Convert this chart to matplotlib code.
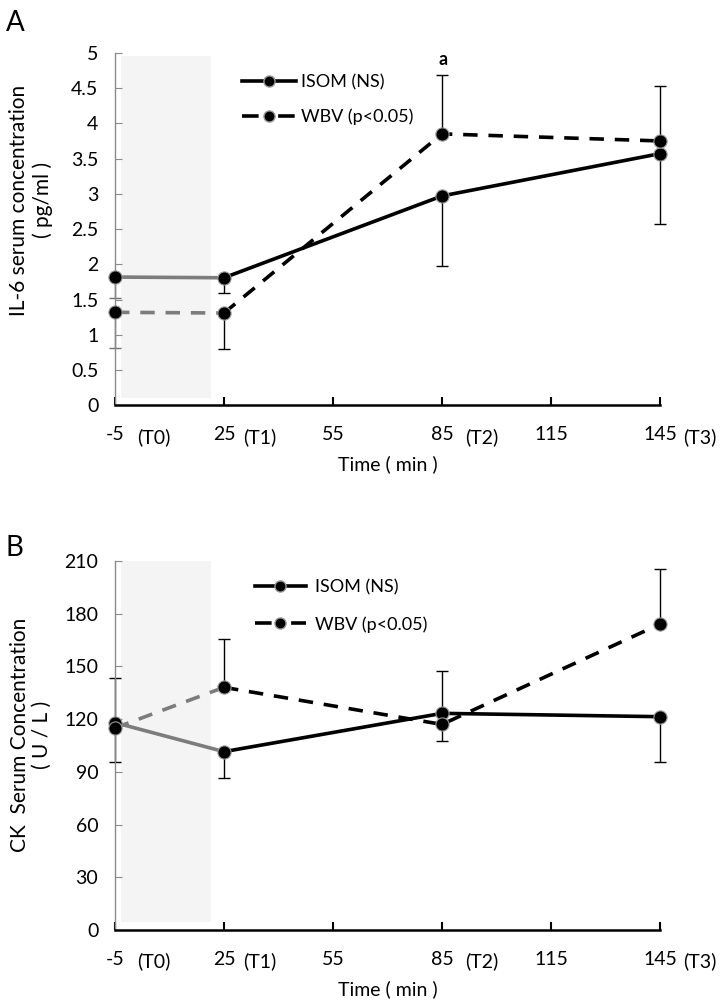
import matplotlib
matplotlib.use("Agg")
import matplotlib.pyplot as plt
from matplotlib.lines import Line2D
from matplotlib.transforms import ScaledTranslation

plt.rcParams['font.family'] = ['Lato', 'DejaVu Sans']

# ---------------- data ----------------
time = [-5, 25, 85, 145]
xticks = [-5, 25, 55, 85, 115, 145]
tp_labels = ["(T0)", "(T1)", "(T2)", "(T3)"]
tp_pos = [5.6, 34.8, 96.0, 156.0]

il6_isom = [1.82, 1.81, 2.97, 3.57]
il6_wbv = [1.32, 1.31, 3.85, 3.75]
il6_isom_lo = [0.29, 0.21, 0.99, 1.00]
il6_isom_up = [0, 0, 0, 0]
il6_wbv_lo = [0.51, 0.51, 0, 0]
il6_wbv_up = [0, 0, 0.83, 0.78]

ck_isom = [118.0, 101.5, 123.3, 121.4]
ck_wbv = [115.0, 138.1, 117.0, 174.1]
ck_isom_lo = [0, 14.8, 0, 25.8]
ck_isom_up = [25.5, 0, 24.3, 0]
ck_wbv_lo = [19.5, 0, 9.5, 0]
ck_wbv_up = [0, 27.3, 0, 31.3]

GRAY = '#7c7c7c'
SHADE = '#f4f4f4'
TICKFS = 14

fig = plt.figure(figsize=(7.2, 10.06), dpi=100)
axA = fig.add_axes([115 / 720, 1 - 405.4 / 1006, 545 / 720, 352.6 / 1006])
axB = fig.add_axes([115 / 720, 1 - 930 / 1006, 545 / 720, 369 / 1006])


def draw_panel(ax, isom, wbv, ilo, iup, wlo, wup, ymax, ystep, shade_y, first_err_color):
    ax.set_xlim(-5, 145)
    ax.set_ylim(0, ymax)
    ax.fill_between([-3.3, 21.5], shade_y[0], shade_y[1], color=SHADE, lw=0, zorder=0)
    for i, t in enumerate(time):
        col = first_err_color if i == 0 else 'black'
        ax.errorbar([t], [isom[i]], yerr=[[ilo[i]], [iup[i]]], fmt='none', ecolor=col,
                    elinewidth=1.0, capsize=4, capthick=1.0, zorder=2, clip_on=False)
        ax.errorbar([t], [wbv[i]], yerr=[[wlo[i]], [wup[i]]], fmt='none', ecolor=col,
                    elinewidth=1.0, capsize=4, capthick=1.0, zorder=2, clip_on=False)
    ax.plot(time[:2], isom[:2], color=GRAY, lw=2.6, zorder=3)
    ax.plot(time[1:], isom[1:], color='black', lw=2.6, zorder=3)
    ax.plot(time[:2], wbv[:2], color=GRAY, lw=2.6, dashes=(4, 3), zorder=3)
    ax.plot(time[1:], wbv[1:], color='black', lw=2.6, dashes=(4, 3), zorder=3)
    ax.plot(time, isom, 'o', ms=9.5, mfc='black', mec='#9a9a9a', mew=0.8, zorder=4, clip_on=False)
    ax.plot(time, wbv, 'o', ms=9.5, mfc='black', mec='#9a9a9a', mew=0.8, zorder=4, clip_on=False)

    for s in ['top', 'right']:
        ax.spines[s].set_visible(False)
    ax.spines['left'].set_color('#8a8a8a')
    ax.spines['left'].set_linewidth(1.0)
    ax.spines['bottom'].set_color('black')
    ax.spines['bottom'].set_linewidth(1.8)
    ax.set_xticks(xticks)
    ax.set_xticklabels([str(v) for v in xticks])
    ax.set_yticks([ystep * k for k in range(int(round(ymax / ystep)) + 1)])
    ax.tick_params(axis='x', direction='in', length=6, width=1.5, color='black',
                   labelsize=TICKFS, pad=15)
    ax.tick_params(axis='y', direction='in', length=5, width=0.8, color='#8a8a8a',
                   labelsize=TICKFS, pad=12)
    off = ax.get_xaxis_transform() + ScaledTranslation(0, -0.315, fig.dpi_scale_trans)
    for lab, xp in zip(tp_labels, tp_pos):
        ax.text(xp, 0, lab, transform=off, ha='center', va='center',
                fontsize=TICKFS, clip_on=False)
    ax.set_xlabel('Time ( min )', fontsize=14, labelpad=9)

    handles = [Line2D([], [], color='black', lw=2.6, marker='o', ms=8, mfc='black',
                      mec='#9a9a9a'),
               Line2D([], [], color='black', lw=2.6, dashes=(4.6, 5.4), marker='o', ms=8,
                      mfc='black', mec='#9a9a9a')]
    return handles


hA = draw_panel(axA, il6_isom, il6_wbv, il6_isom_lo, il6_isom_up, il6_wbv_lo, il6_wbv_up,
                5, 0.5, (0.1, 4.96), '#707070')
axA.set_yticklabels(['0', '0.5', '1', '1.5', '2', '2.5', '3', '3.5', '4', '4.5', '5'])
fig.text(31 / 720, 1 - 200 / 1006, 'IL-6 serum concentration\n( pg/ml )', rotation=90,
         ha='center', va='center', fontsize=15, linespacing=1.15, multialignment='center')
axA.legend(hA, ['ISOM (NS)', 'WBV (p<0.05)'], loc='upper left', bbox_to_anchor=(0.203, 0.985),
           frameon=False, fontsize=13, handlelength=3.0, handletextpad=0.3, labelspacing=1.0)
axA.text(85.3, 4.9, 'a', ha='center', va='center', fontsize=13, fontweight='bold')

hB = draw_panel(axB, ck_isom, ck_wbv, ck_isom_lo, ck_isom_up, ck_wbv_lo, ck_wbv_up,
                210, 30, (4.3, 210), 'black')
fig.text(31 / 720, 1 - 735 / 1006, 'CK  Serum Concentration\n( U / L )', rotation=90,
         ha='center', va='center', fontsize=15, linespacing=1.15, multialignment='center')
axB.legend(hB, ['ISOM (NS)', 'WBV (p<0.05)'], loc='upper left', bbox_to_anchor=(0.227, 0.995),
           frameon=False, fontsize=13, handlelength=2.8, handletextpad=0.5, labelspacing=1.15)

fig.text(0.008, 0.99, 'A', fontsize=20, ha='left', va='top')
fig.text(0.008, 0.468, 'B', fontsize=20, ha='left', va='top')

fig.savefig('out.png', dpi=100)
